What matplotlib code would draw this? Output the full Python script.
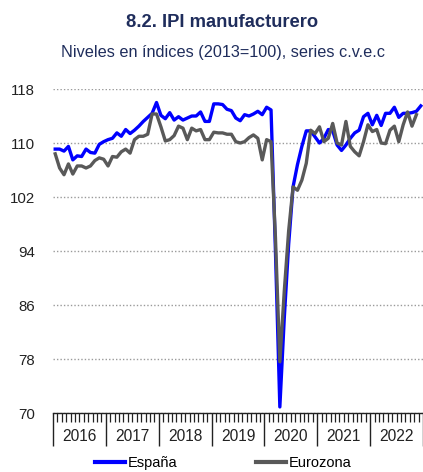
import numpy as np
import matplotlib.pyplot as plt
from matplotlib.lines import Line2D
from matplotlib.ticker import MultipleLocator, FixedLocator, NullFormatter
import matplotlib.transforms as mtransforms

plt.rcParams['font.family'] = ['Liberation Sans', 'DejaVu Sans']

# Monthly index levels, Jan 2016 - Dec 2022
years = [2016, 2017, 2018, 2019, 2020, 2021, 2022]
espana = [
    109.1, 109.1, 108.8, 109.5, 107.5, 108.1, 108.0, 109.1, 108.6, 108.5, 109.8, 110.2,
    110.5, 110.7, 111.5, 111.0, 112.0, 111.4, 111.9, 112.5, 113.2, 113.8, 114.4, 116.0,
    114.1, 113.6, 114.5, 113.4, 113.9, 113.4, 113.7, 114.0, 114.0, 114.6, 113.2, 113.2,
    115.8, 115.8, 115.7, 115.0, 114.8, 113.7, 113.3, 114.2, 114.0, 114.3, 114.7, 114.2,
    115.3, 114.9, 94.0, 70.9, 84.0, 95.0, 103.5, 106.8, 109.5, 111.8, 111.8, 110.9,
    110.0, 110.7, 112.0, 111.8, 109.7, 108.9, 109.7, 110.7, 111.5, 111.9, 113.9, 114.4,
    112.7, 114.1, 112.6, 114.4, 114.4, 115.3, 113.8, 114.4, 114.4, 114.5, 114.7, 115.5,
]
eurozona = [
    108.4, 106.3, 105.3, 106.9, 105.4, 106.6, 106.6, 106.3, 106.6, 107.4, 107.8, 107.6,
    106.6, 108.0, 107.9, 108.7, 109.1, 108.5, 110.5, 111.0, 111.0, 111.3, 114.3, 114.3,
    112.4, 110.3, 110.5, 111.1, 112.5, 112.2, 110.5, 112.2, 111.8, 112.0, 110.5, 110.5,
    111.6, 111.5, 111.5, 111.3, 111.3, 110.2, 110.0, 110.2, 110.8, 111.2, 110.7, 107.5,
    110.5, 110.2, 96.0, 77.6, 88.0, 97.0, 103.5, 103.0, 104.5, 107.0, 111.9, 111.4,
    112.4, 110.2, 110.7, 112.9, 110.0, 109.7, 113.2, 109.5, 108.7, 108.1, 110.2, 112.7,
    111.7, 112.0, 110.0, 109.9, 111.9, 112.5, 110.2, 112.7, 114.6, 112.5, 114.2, np.nan,
]
y_ticks = [70, 78, 86, 94, 102, 110, 118]

navy = '#1F2D5C'
blue = '#0000FF'
grey = '#595959'

fig = plt.figure(figsize=(4.23, 4.72), dpi=100)
ax = fig.add_axes([0.1253, 0.125, 0.8747, 0.6864])

n = len(espana)
x = np.arange(n) + 0.5
ax.plot(x, eurozona, color=grey, lw=2.4, solid_joinstyle='round', zorder=3)
ax.plot(x, espana, color=blue, lw=2.4, solid_joinstyle='round', zorder=2)

ax.set_xlim(0, 12 * len(years))
ax.set_ylim(70, 118)
ax.set_yticks(y_ticks)
ax.yaxis.grid(True, color='#9a9a9a', linestyle=(0, (1, 1.5)), lw=1.0)
ax.set_axisbelow(True)
ax.tick_params(axis='y', length=0, pad=13, labelsize=10.8, labelcolor='#222222')

for s in ['top', 'right', 'left']:
    ax.spines[s].set_visible(False)
ax.spines['bottom'].set_color('#222222')
ax.spines['bottom'].set_linewidth(1.0)

# year separators (long) and monthly ticks (short)
ax.xaxis.set_major_locator(FixedLocator([12 * k for k in range(len(years) + 1)]))
ax.xaxis.set_minor_locator(MultipleLocator(1))
ax.xaxis.set_major_formatter(NullFormatter())
ax.tick_params(axis='x', which='major', length=24, width=1.0, color='#222222', direction='out')
ax.tick_params(axis='x', which='minor', length=6.5, width=0.9, color='#222222', direction='out')

trans = mtransforms.blended_transform_factory(ax.transData, ax.transAxes)
for k, yr in enumerate(years):
    ax.text(12 * k + 6, -0.073, str(yr), transform=trans, ha='center', va='center',
            fontsize=11.2, color='#222222')

fig.text(0.525, 0.953, '8.2. IPI manufacturero', ha='center', va='center',
         fontsize=13.2, fontweight='bold', color=navy)
fig.text(0.527, 0.889, 'Niveles en índices (2013=100), series c.v.e.c', ha='center',
         va='center', fontsize=11.7, color=navy)

handles = [Line2D([], [], color=blue, lw=3), Line2D([], [], color=grey, lw=3)]
fig.legend(handles, ['España', 'Eurozona'], loc='center', bbox_to_anchor=(0.527, 0.019),
           ncol=2, frameon=False, fontsize=10.5, handlelength=2.1, handletextpad=0.15,
           columnspacing=5.4, borderpad=0, borderaxespad=0)

fig.savefig('out.png', dpi=100)
